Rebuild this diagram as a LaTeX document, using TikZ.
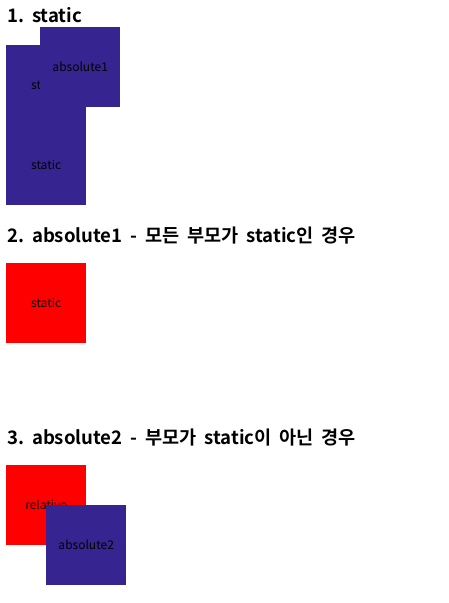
\documentclass[tikz,border=0pt]{standalone}
\usepackage{fontspec}
\setmainfont{Noto Sans CJK KR}
\newfontfamily\headfont{Noto Sans CJK KR}[BoldFont={* Bold}]
\newcommand\myheadfont{\headfont\fontsize{18.6}{22}\selectfont\bfseries\frenchspacing\spaceskip 0.42em\relax}
\definecolor{boxblue}{RGB}{54,36,145}
\definecolor{boxred}{RGB}{255,0,0}
\begin{document}
\begin{tikzpicture}[x=1pt,y=-1pt,
  heading/.style={anchor=base west,inner sep=0pt,font=\myheadfont},
  bluebox/.style={fill=boxblue,draw=none,anchor=north west,minimum width=80pt,minimum height=80pt,inner sep=0pt},
  redbox/.style={fill=boxred,draw=none,anchor=north west,minimum width=80pt,minimum height=80pt,inner sep=0pt},
  boxtext/.style={inner sep=0pt,text=black,font=\fontsize{12}{14}\selectfont}]
\useasboundingbox (0,0) rectangle (449,603);
% section 1
\node[heading] (h1) at (7,22) {1. static};
\node[bluebox] (s1) at (6,45) {};
\node[boxtext] (s1t) at (s1.center) {static};
\node[bluebox] (s2) at (6,125) {};
\node[boxtext] (s2t) at (s2.center) {static};
\node[bluebox] (a1) at (40,27) {};
\node[boxtext] (a1t) at (a1.center) {absolute1};
% section 2
\node[heading] (h2) at (7,242) {2. absolute1 - 모든 부모가 static인 경우};
\node[redbox] (r2) at (6,263) {};
\node[boxtext] (r2t) at (r2.center) {static};
% section 3
\node[heading] (h3) at (7,444) {3. absolute2 - 부모가 static이 아닌 경우};
\node[redbox] (r3) at (6,465) {};
\node[boxtext] (r3t) at (r3.center) {relative};
\node[bluebox] (a2) at (46,505) {};
\node[boxtext] (a2t) at (a2.center) {absolute2};
\end{tikzpicture}
\end{document}
